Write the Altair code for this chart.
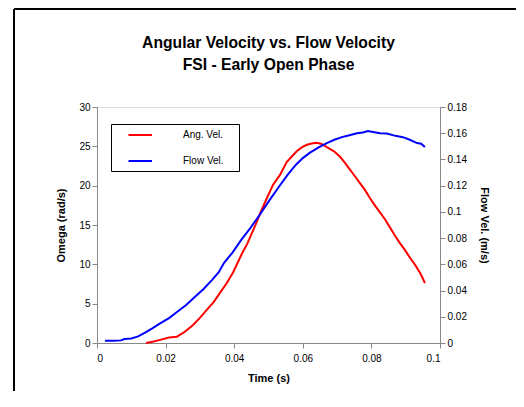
import altair as alt
import pandas as pd

# Angular velocity (rad/s)
t_ang = [0.0143, 0.0165, 0.0184, 0.0210, 0.0233, 0.0255, 0.0280, 0.0300, 0.0320, 0.0340,
         0.0359, 0.0378, 0.0397, 0.0410, 0.0423, 0.0438, 0.0452, 0.0465, 0.0475, 0.0495,
         0.0513, 0.0534, 0.0553, 0.0570, 0.0583, 0.0598, 0.0612, 0.0626, 0.0640, 0.0655,
         0.0670, 0.0690, 0.0708, 0.0723, 0.0738, 0.0752, 0.0767, 0.0782, 0.0796, 0.0810,
         0.0825, 0.0840, 0.0854, 0.0868, 0.0883, 0.0898, 0.0913, 0.0928, 0.0942, 0.0950,
         0.0956]
omega = [0.0, 0.2, 0.4, 0.7, 0.8, 1.4, 2.3, 3.2, 4.2, 5.2,
         6.4, 7.6, 9.0, 10.2, 11.4, 12.6, 14.0, 15.3, 16.4, 18.4,
         20.1, 21.4, 23.0, 23.8, 24.4, 24.9, 25.2, 25.35, 25.45, 25.3,
         24.9, 24.4, 23.7, 22.9, 22.0, 21.2, 20.3, 19.4, 18.4, 17.5,
         16.6, 15.7, 14.7, 13.7, 12.7, 11.8, 10.8, 9.9, 8.9, 8.2,
         7.6]

# Flow velocity (m/s)
t_flow = [0.0023, 0.0050, 0.0070, 0.0080, 0.0100, 0.0120, 0.0140, 0.0160, 0.0184, 0.0210,
          0.0235, 0.0260, 0.0285, 0.0310, 0.0335, 0.0355, 0.0370, 0.0395, 0.0420, 0.0448,
          0.0475, 0.0503, 0.0530, 0.0555, 0.0580, 0.0600, 0.0620, 0.0645, 0.0670, 0.0692,
          0.0714, 0.0736, 0.0758, 0.0775, 0.0790, 0.0805, 0.0825, 0.0845, 0.0870, 0.0892,
          0.0912, 0.0933, 0.0945, 0.0956]
flow = [0.0018, 0.0018, 0.0020, 0.0030, 0.0035, 0.0050, 0.0079, 0.0110, 0.0150, 0.0190,
        0.0240, 0.0290, 0.0350, 0.0410, 0.0480, 0.0540, 0.0610, 0.0690, 0.0785, 0.0880,
        0.0980, 0.1090, 0.1190, 0.1280, 0.1360, 0.1410, 0.1450, 0.1490, 0.1525, 0.1550,
        0.1570, 0.1585, 0.1600, 0.1605, 0.1617, 0.1610, 0.1600, 0.1598, 0.1580, 0.1570,
        0.1550, 0.1525, 0.1520, 0.1495]

series = ["Ang. Vel.", "Flow Vel."]
colors = ["#FF0000", "#0000FF"]

df_ang = pd.DataFrame({"t": t_ang, "v": omega, "series": series[0]})
df_flow = pd.DataFrame({"t": t_flow, "v": flow, "series": series[1]})

FONT = "Liberation Sans"

legend = alt.Legend(
    title=" ",
    titleOrient="right",
    titlePadding=10,
    titleFontSize=10,
    orient="none",
    legendX=14,
    legendY=17,
    symbolType="M 1.3 0 H 6",
    symbolSize=100,
    symbolStrokeWidth=2,
    labelOffset=55,
    labelFont=FONT,
    labelFontSize=10,
    labelColor="black",
    rowPadding=15,
    padding=5,
    strokeColor="black",
    fillColor="white",
)

color = alt.Color("series:N", scale=alt.Scale(domain=series, range=colors), legend=legend)

x = alt.X(
    "t:Q",
    scale=alt.Scale(domain=[0, 0.1]),
    axis=alt.Axis(
        title="Time (s)",
        values=[0, 0.02, 0.04, 0.06, 0.08, 0.1],
        format="~g",
        grid=False,
        titlePadding=9,
        labelPadding=5,
    ),
)

ang = alt.Chart(df_ang).mark_line(strokeWidth=2).encode(
    x=x,
    y=alt.Y(
        "v:Q",
        scale=alt.Scale(domain=[0, 30]),
        axis=alt.Axis(
            title="Omega (rad/s)",
            values=[0, 5, 10, 15, 20, 25, 30],
            grid=False,
            orient="left",
            titlePadding=12,
            labelPadding=2,
        ),
    ),
    color=color,
)

flw = alt.Chart(df_flow).mark_line(strokeWidth=2).encode(
    x=x,
    y=alt.Y(
        "v:Q",
        scale=alt.Scale(domain=[0, 0.18]),
        axis=alt.Axis(
            title="Flow Vel. (m/s)",
            values=[0, 0.02, 0.04, 0.06, 0.08, 0.1, 0.12, 0.14, 0.16, 0.18],
            format="~g",
            grid=False,
            orient="right",
            titlePadding=12,
            labelPadding=2,
        ),
    ),
    color=color,
)

frame_top = alt.Chart(df_ang).mark_rule(color="black", strokeWidth=2).encode(
    x=alt.value(-83), x2=alt.value(419), y=alt.value(-98)
)
frame_left = alt.Chart(df_ang).mark_rule(color="black", strokeWidth=2).encode(
    x=alt.value(-83), y=alt.value(-98), y2=alt.value(284)
)

chart = (
    alt.layer(frame_top, frame_left, ang, flw)
    .resolve_scale(y="independent")
    .properties(
        width=343,
        height=236,
        autosize=alt.AutoSizeParams(type="none"),
        padding={"left": 89, "top": 99, "right": 76, "bottom": 48},
        title=alt.TitleParams(
            text=["Angular Velocity vs. Flow Velocity", "FSI - Early Open Phase"],
            font=FONT,
            fontSize=15.7,
            fontWeight="bold",
            color="black",
            lineHeight=22,
            anchor="middle",
            frame="group",
            baseline="bottom",
            offset=-81,
        ),
    )
    .configure_view(stroke="#808080", strokeWidth=1)
    .configure_axis(
        domainColor="black",
        domainWidth=2,
        tickColor="black",
        tickWidth=1.5,
        tickSize=5,
        labelFont=FONT,
        labelFontSize=10,
        labelColor="black",
        titleFont=FONT,
        titleFontSize=10,
        titleFontWeight="bold",
        titleColor="black",
    )
    .configure(background="white")
)

chart.save("out.html", embed_options={"renderer": "svg", "actions": False})
